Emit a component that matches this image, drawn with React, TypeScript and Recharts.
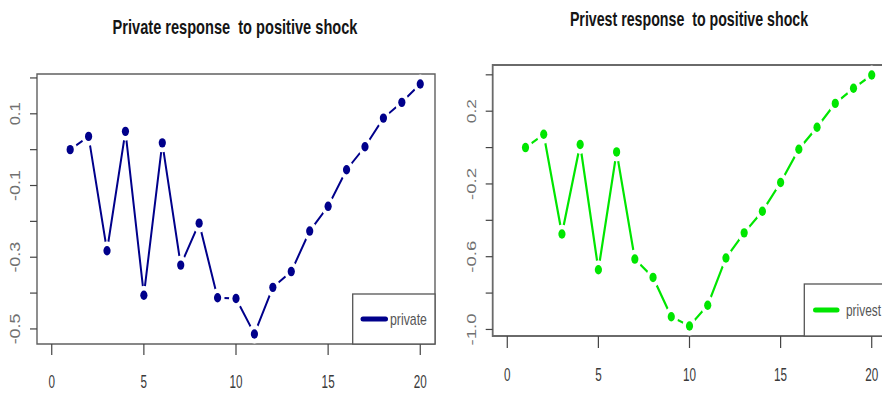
import React from 'react';
import { LineChart, Line, XAxis, YAxis, ReferenceArea } from 'recharts';

const periods = [1, 2, 3, 4, 5, 6, 7, 8, 9, 10, 11, 12, 13, 14, 15, 16, 17, 18, 19, 20];
const privateResp = [0.0, 0.037, -0.282, 0.051, -0.406, 0.019, -0.322, -0.205, -0.413, -0.415, -0.514, -0.384, -0.34, -0.227, -0.158, -0.056, 0.008, 0.088, 0.132, 0.183];
const privestResp = [0.0, 0.073, -0.475, 0.017, -0.672, -0.024, -0.613, -0.714, -0.93, -0.981, -0.867, -0.607, -0.469, -0.35, -0.192, -0.009, 0.112, 0.243, 0.326, 0.399];
const xTicks = [0, 5, 10, 15, 20];
const privateYTicks = [-0.5, -0.4, -0.3, -0.2, -0.1, 0, 0.1, 0.2];
const privateYLabels = ['0.1', '-0.1', '-0.3', '-0.5'];
const privestYTicks = [-1.0, -0.8, -0.6, -0.4, -0.2, 0, 0.2, 0.4];
const privestYLabels = ['0.2', '-0.2', '-0.6', '-1.0'];
const titles = ['Private response  to positive shock', 'Privest response  to positive shock'];
const seriesNames = ['private', 'privest'];
const colors = ['#00008B', '#00E600'];

const FONT = '"Liberation Sans", Arial, sans-serif';

type PanelProps = {
  left: number;
  width: number;
  height: number;
  values: number[];
  color: string;
  yDomain: [number, number];
  yTicks: number[];
  yLabels: string[];
  yLabelX: number;
  yLabelSize: number;
  yLabelPerChar: number;
  xLabelY: number;
  xTickSize: number;
  margin: { top: number; right: number; bottom: number; left: number };
  yAxisWidth: number;
  xAxisHeight: number;
  boxStroke: string;
  boxWidth: number;
  lineWidth: number;
};

function Panel(p: PanelProps) {
  const data = periods.map((t, i) => ({ t, v: p.values[i] }));
  const renderY = (props: any) => {
    const label = Number(props.payload.value).toFixed(1);
    if (!p.yLabels.includes(label)) return <g />;
    return (
      <text
        x={p.yLabelX}
        y={props.y}
        transform={`rotate(-90, ${p.yLabelX}, ${props.y})`}
        textAnchor="middle"
        dominantBaseline="central"
        fontFamily={FONT}
        fontSize={p.yLabelSize}
        fill="#707070"
        textLength={label.length * p.yLabelPerChar}
        lengthAdjust="spacingAndGlyphs"
      >
        {label}
      </text>
    );
  };
  const renderX = (props: any) => {
    const label = String(props.payload.value);
    return (
      <text
        x={0}
        y={0}
        transform={`translate(${props.x}, ${p.xLabelY}) scale(1, 1.55)`}
        textAnchor="middle"
        fontFamily={FONT}
        fontSize={11.7}
        fill="#3a3a3a"
      >
        {label}
      </text>
    );
  };
  const renderDot = (props: any) => {
    const { cx, cy, index } = props;
    return (
      <g key={`dot-${index}`}>
        <ellipse cx={cx} cy={cy} rx={7} ry={9.5} fill="#ffffff" />
        <ellipse cx={cx} cy={cy} rx={3.6} ry={4.7} fill={p.color} />
      </g>
    );
  };
  return (
    <div style={{ position: 'absolute', left: p.left, top: 0 }}>
      <LineChart width={p.width} height={p.height} data={data} margin={p.margin}>
        <XAxis
          dataKey="t"
          type="number"
          domain={[-0.8, 20.8]}
          ticks={xTicks}
          interval={0}
          axisLine={false}
          tickSize={p.xTickSize}
          tickLine={{ stroke: '#444', strokeWidth: 1.2 }}
          height={p.xAxisHeight}
          tick={renderX}
        />
        <YAxis
          type="number"
          domain={p.yDomain}
          ticks={p.yTicks}
          interval={0}
          axisLine={false}
          tickSize={7}
          tickLine={{ stroke: '#444', strokeWidth: 1.2 }}
          width={p.yAxisWidth}
          tick={renderY}
        />
        <Line
          type="linear"
          dataKey="v"
          stroke={p.color}
          strokeWidth={p.lineWidth}
          dot={renderDot}
          activeDot={false}
          isAnimationActive={false}
        />
        <ReferenceArea
          x1={-0.8}
          x2={20.8}
          y1={p.yDomain[0]}
          y2={p.yDomain[1]}
          fill="none"
          fillOpacity={0}
          stroke={p.boxStroke}
          strokeWidth={p.boxWidth}
          ifOverflow="visible"
        />
      </LineChart>
    </div>
  );
}

export default function App() {
  return (
    <div
      style={{
        position: 'absolute',
        left: 0,
        top: 0,
        width: 882,
        height: 396,
        overflow: 'hidden',
        background: '#ffffff',
      }}
    >
      <Panel
        left={0}
        width={441}
        height={396}
        values={privateResp}
        color={colors[0]}
        yDomain={[-0.542, 0.211]}
        yTicks={privateYTicks}
        yLabels={privateYLabels}
        yLabelX={15}
        yLabelSize={14}
        yLabelPerChar={7.7}
        xLabelY={387.5}
        xTickSize={11}
        margin={{ top: 74, right: 6, bottom: 0, left: 0 }}
        yAxisWidth={37}
        xAxisHeight={52}
        boxStroke="#606060"
        boxWidth={1.4}
        lineWidth={2}
      />
      <Panel
        left={441}
        width={450}
        height={396}
        values={privestResp}
        color={colors[1]}
        yDomain={[-1.036, 0.454]}
        yTicks={privestYTicks}
        yLabels={privestYLabels}
        yLabelX={30.7}
        yLabelSize={13}
        yLabelPerChar={8}
        xLabelY={380.5}
        xTickSize={12}
        margin={{ top: 65, right: 4.7, bottom: 0, left: 0 }}
        yAxisWidth={51.7}
        xAxisHeight={60}
        boxStroke="#6a6a6a"
        boxWidth={1.8}
        lineWidth={2.2}
      />
      <svg
        width={882}
        height={396}
        style={{ position: 'absolute', left: 0, top: 0, pointerEvents: 'none' }}
      >
        <text x={0} y={0} transform="translate(235, 33.5) scale(1, 1.43)" textAnchor="middle" fontFamily={FONT} fontWeight="bold" fontSize={14.6} fill="#151515" style={{ whiteSpace: 'pre' }}>
          {titles[0]}
        </text>
        <text x={0} y={0} transform="translate(689, 25.5) scale(1, 1.47)" textAnchor="middle" fontFamily={FONT} fontWeight="bold" fontSize={14.2} fill="#151515" style={{ whiteSpace: 'pre' }}>
          {titles[1]}
        </text>
        <g>
          <rect x={352.7} y={294} width={82.3} height={50} fill="#ffffff" stroke="#555" strokeWidth={1.3} />
          <line x1={363} y1={319} x2={385.5} y2={319} stroke={colors[0]} strokeWidth={5} strokeLinecap="round" />
          <text x={0} y={0} transform="translate(390, 324.5) scale(1, 1.3)" fontFamily={FONT} fontSize={12.3} fill="#555">
            {seriesNames[0]}
          </text>
        </g>
        <g>
          <rect x={804.3} y={284} width={90} height={52} fill="#ffffff" stroke="#555" strokeWidth={1.3} />
          <line x1={815.5} y1={310} x2={837} y2={310} stroke={colors[1]} strokeWidth={5} strokeLinecap="round" />
          <text x={0} y={0} transform="translate(846, 315.5) scale(1, 1.34)" fontFamily={FONT} fontSize={11.9} fill="#555">
            {seriesNames[1]}
          </text>
        </g>
      </svg>
    </div>
  );
}
